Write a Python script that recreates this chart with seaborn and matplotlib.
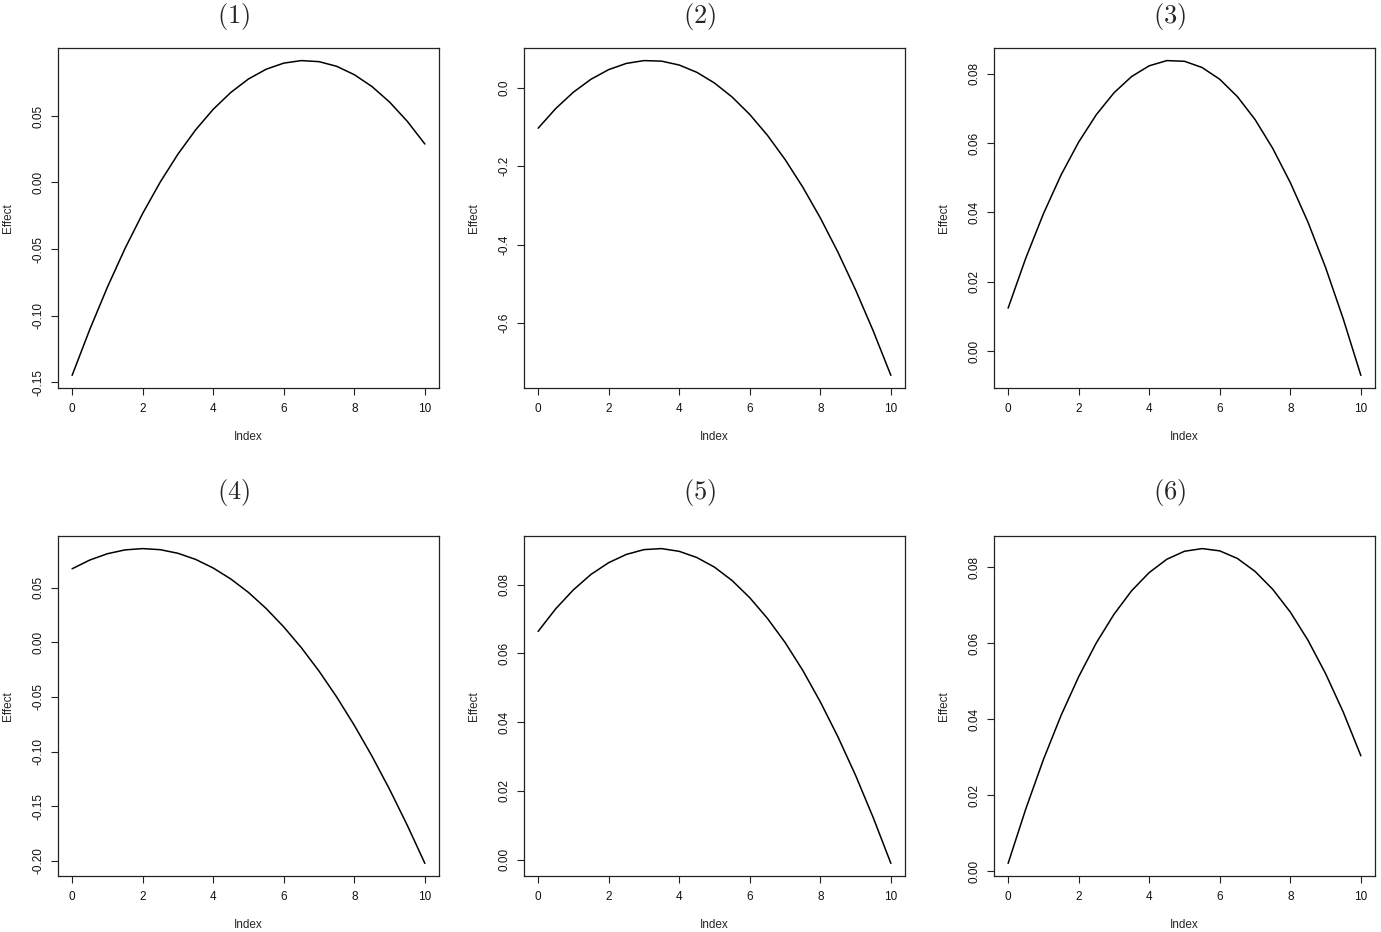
import pandas as pd
import seaborn as sns
import matplotlib
matplotlib.use("Agg")
import matplotlib.pyplot as plt

# index grid shared by all six panels
index_vals = [0, 0.5, 1, 1.5, 2, 2.5, 3, 3.5, 4, 4.5, 5,
              5.5, 6, 6.5, 7, 7.5, 8, 8.5, 9, 9.5, 10]

# effect curves
effect_1 = [-0.1450, -0.1105, -0.0787, -0.0496, -0.0233, 0.0004, 0.0213, 0.0395, 0.0550, 0.0677, 0.0778,
            0.0851, 0.0897, 0.0916, 0.0908, 0.0873, 0.0810, 0.0721, 0.0604, 0.0460, 0.0289]
effect_2 = [-0.1037, -0.0535, -0.0119, 0.0211, 0.0455, 0.0613, 0.0685, 0.0671, 0.0572, 0.0386, 0.0114,
            -0.0243, -0.0687, -0.1216, -0.1832, -0.2533, -0.3320, -0.4194, -0.5153, -0.6198, -0.7329]
effect_3 = [0.0124, 0.0268, 0.0396, 0.0508, 0.0603, 0.0682, 0.0745, 0.0792, 0.0823, 0.0838, 0.0836,
            0.0818, 0.0784, 0.0734, 0.0668, 0.0585, 0.0486, 0.0372, 0.0241, 0.0093, -0.0070]
effect_4 = [0.0675, 0.0755, 0.0813, 0.0848, 0.0860, 0.0850, 0.0817, 0.0761, 0.0682, 0.0581, 0.0458,
            0.0311, 0.0142, -0.0049, -0.0263, -0.0500, -0.0760, -0.1042, -0.1347, -0.1675, -0.2025]
effect_5 = [0.0664, 0.0730, 0.0785, 0.0830, 0.0864, 0.0888, 0.0902, 0.0905, 0.0897, 0.0879, 0.0851,
            0.0812, 0.0762, 0.0702, 0.0632, 0.0551, 0.0459, 0.0357, 0.0245, 0.0122, -0.0011]
effect_6 = [0.0021, 0.0164, 0.0294, 0.0410, 0.0512, 0.0601, 0.0676, 0.0738, 0.0786, 0.0821, 0.0842,
            0.0849, 0.0843, 0.0823, 0.0789, 0.0742, 0.0682, 0.0608, 0.0520, 0.0419, 0.0304]

panel_titles = ["(1)", "(2)", "(3)", "(4)", "(5)", "(6)"]
x_ticks = [0, 2, 4, 6, 8, 10]
y_ticks_1 = [-0.15, -0.10, -0.05, 0.00, 0.05]
y_ticks_2 = [-0.6, -0.4, -0.2, 0.0]
y_ticks_3 = [0.00, 0.02, 0.04, 0.06, 0.08]
y_ticks_4 = [-0.20, -0.15, -0.10, -0.05, 0.00, 0.05]
y_ticks_5 = [0.00, 0.02, 0.04, 0.06, 0.08]
y_ticks_6 = [0.00, 0.02, 0.04, 0.06, 0.08]

effects = [effect_1, effect_2, effect_3, effect_4, effect_5, effect_6]
y_ticks = [y_ticks_1, y_ticks_2, y_ticks_3, y_ticks_4, y_ticks_5, y_ticks_6]
y_fmt = ["%.2f", "%.1f", "%.2f", "%.2f", "%.2f", "%.2f"]

sns.set_style("ticks")
plt.rcParams["font.family"] = ["Liberation Sans", "DejaVu Sans"]
plt.rcParams["mathtext.fontset"] = "cm"
plt.rcParams["axes.unicode_minus"] = False

W, H = 1381, 932
fig = plt.figure(figsize=(W / 100, H / 100), dpi=100)

# box positions in pixels (left, top) ; all boxes 381 x 340
box_left = [58, 524, 994]
box_top = [48, 536]
box_w, box_h = 381, 340
title_x = [234, 700, 1170]
title_y = [17, 492]

for i in range(6):
    r, c = divmod(i, 3)
    left = box_left[c] / W
    bottom = (H - box_top[r] - box_h) / H
    ax = fig.add_axes([left, bottom, box_w / W, box_h / H])

    df = pd.DataFrame({"Index": index_vals, "Effect": effects[i]})
    sns.lineplot(data=df, x="Index", y="Effect", ax=ax, color="black", linewidth=1.1)
    ax.margins(0.04)

    ax.set_xticks(x_ticks)
    ax.set_xticklabels([str(t) for t in x_ticks])
    ax.set_yticks(y_ticks[i])
    ax.set_yticklabels([y_fmt[i] % t for t in y_ticks[i]])
    ax.tick_params(axis="both", direction="out", length=5, width=0.8, color="#222222",
                   labelsize=8.5, labelcolor="#111111")
    ax.tick_params(axis="x", pad=6)
    ax.tick_params(axis="y", pad=5)
    plt.setp(ax.get_yticklabels(), rotation=90, va="center")

    for sp in ax.spines.values():
        sp.set_visible(True)
        sp.set_color("#222222")
        sp.set_linewidth(0.9)

    ax.set_xlabel("Index", fontsize=8.5)
    ax.set_ylabel("Effect", fontsize=8.5)
    ax.xaxis.set_label_coords(0.5, -49 / box_h)
    ax.xaxis.label.set_va("center")
    ax.yaxis.set_label_coords(-50 / box_w, 0.5)
    ax.yaxis.label.set_va("center")

    fig.text(title_x[c] / W, 1 - title_y[r] / H, "$" + panel_titles[i] + "$",
             fontsize=19, ha="center", va="center")

plt.savefig("out.png", dpi=100)
